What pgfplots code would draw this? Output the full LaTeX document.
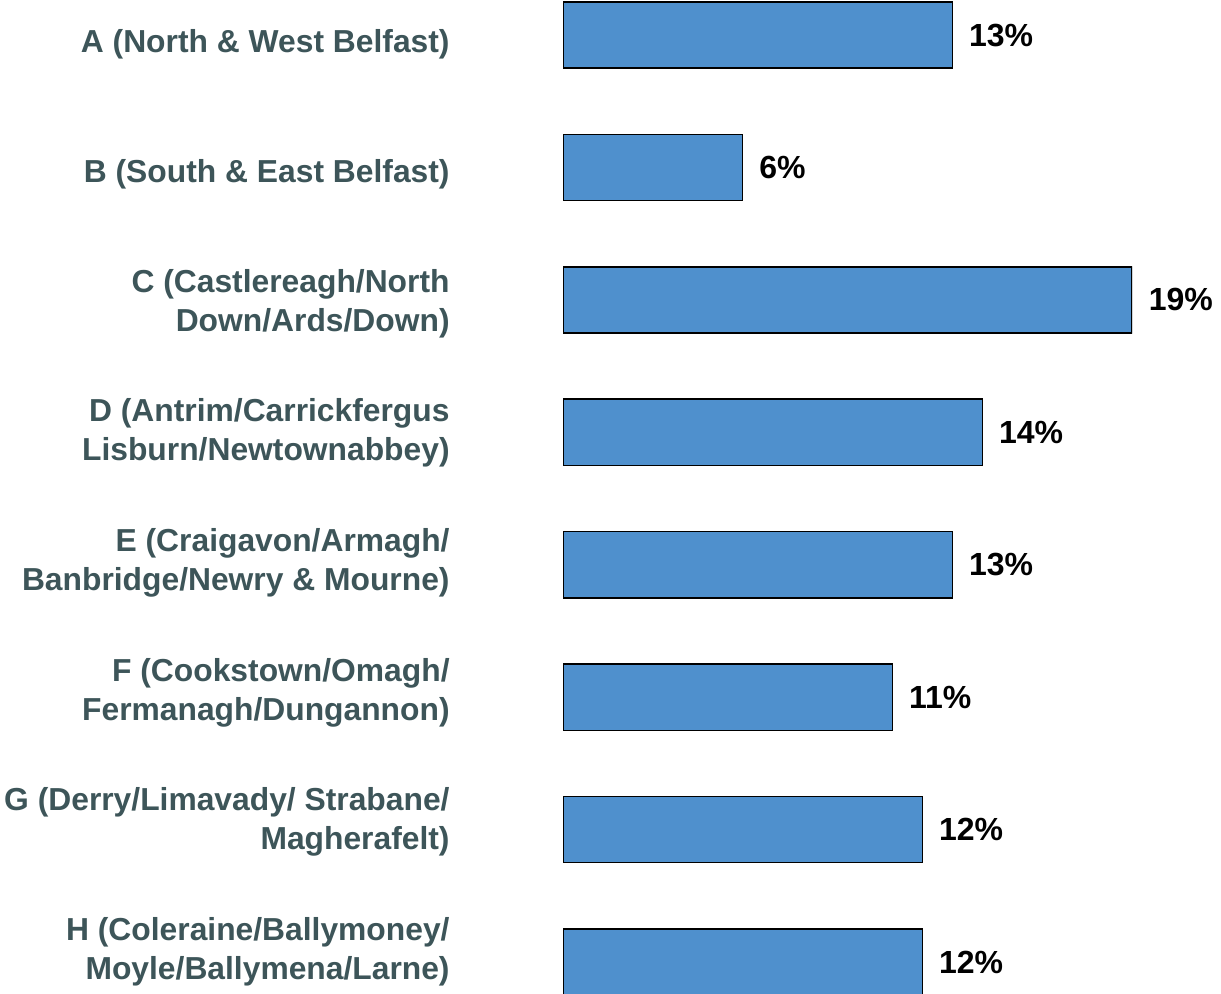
\documentclass[border=0pt]{standalone}
\usepackage{fontspec}
\setmainfont{Liberation Sans}
\usepackage{pgfplots}
\pgfplotsset{compat=1.18}
\definecolor{barblue}{HTML}{4F90CD}
\definecolor{labelgrey}{HTML}{3D5559}
\begin{document}
\begin{tikzpicture}
\useasboundingbox (0,0) rectangle (610.5pt,497pt);
\begin{axis}[
 at={(281.5pt,0pt)}, anchor=south west,
 scale only axis, width=284.5pt, height=497pt,
 xmin=0, xmax=19, ymin=-0.2644, ymax=7.2417, y dir=reverse,
 xbar, bar width=0.5, bar shift=0pt,
 axis line style={draw=none},
 xtick=\empty, major tick length=0pt,
 ytick={0.045,1.027,2.005,2.983,3.964,4.946,5.920,6.902},
 yticklabels={{A (North \& West Belfast)},{B (South \& East Belfast)},{C (Castlereagh/North\\Down/Ards/Down)},{D (Antrim/Carrickfergus\\Lisburn/Newtownabbey)},{E (Craigavon/Armagh/\\Banbridge/Newry \& Mourne)},{F (Cookstown/Omagh/\\Fermanagh/Dungannon)},{G (Derry/Limavady/ Strabane/\\Magherafelt)},{H (Coleraine/Ballymoney/\\Moyle/Ballymena/Larne)}},
 yticklabel style={align=right, font=\bfseries\fontsize{15.9}{19.5}\selectfont, text=labelgrey, inner sep=0pt, xshift=-56.5pt, yshift=-1.5pt},
 point meta=x,
 nodes near coords={\pgfmathprintnumber[assume math mode=true]{\pgfplotspointmeta}\%},
 nodes near coords style={anchor=west, inner sep=0pt, xshift=8pt, font=\bfseries\fontsize{16}{19}\selectfont, text=black},
]
\addplot[fill=barblue, draw=black, line width=0.75pt] coordinates {(13,0) (6,1) (19,2) (14,3) (13,4) (11,5) (12,6) (12,7)};
\end{axis}
\end{tikzpicture}
\end{document}
